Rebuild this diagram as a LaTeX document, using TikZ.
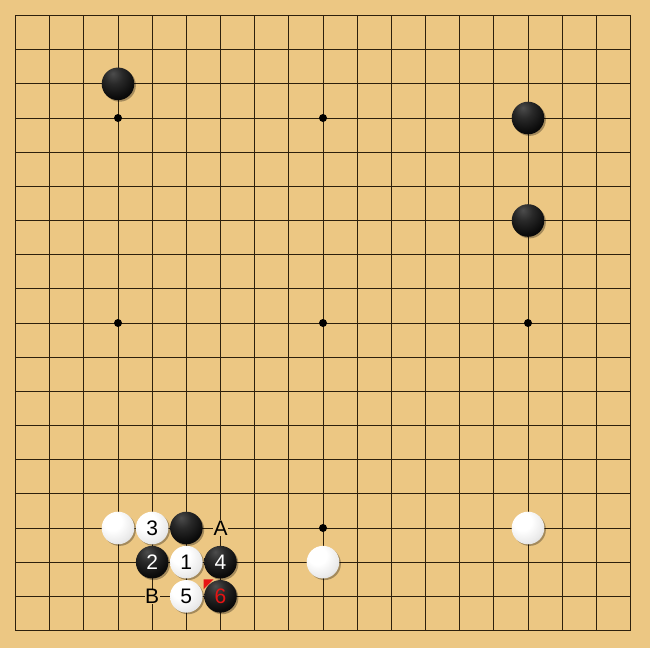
\documentclass[tikz,border=0pt]{standalone}
\usepackage{fontspec}
\setmainfont{Liberation Sans}
\usetikzlibrary{shadows,calc}
\definecolor{boardcol}{RGB}{236,199,131}
\definecolor{linecol}{RGB}{45,32,12}
\definecolor{markred}{RGB}{230,20,20}
\pgfdeclareradialshading{blackstone}{\pgfpoint{-8bp}{16bp}}{color(0bp)=(black!70);color(14bp)=(black!84);color(32bp)=(black!96);color(50bp)=(black);color(90bp)=(black)}
\pgfdeclareradialshading{whitestone}{\pgfpoint{-10bp}{12bp}}{color(0bp)=(white);color(14bp)=(white);color(30bp)=(black!8);color(42bp)=(black!18);color(52bp)=(black!32);color(62bp)=(black!45);color(90bp)=(black!50)}
\tikzset{
  gridline/.style={draw=linecol,line width=0.9pt},
  borderline/.style={draw=linecol,line width=1.8pt},
  starpt/.style={fill=black},
  stone/.style={circle,minimum size=32.6pt,inner sep=0pt,font=\fontsize{21}{21}\selectfont,
     drop shadow={shadow xshift=1.6pt,shadow yshift=-1.6pt,opacity=0.3,fill=black}},
  bstone/.style={stone,shading=blackstone,text=white},
  wstone/.style={stone,shading=whitestone,text=black},
  boardlabel/.style={fill=boardcol,inner sep=0.6pt,font=\fontsize{21}{21}\selectfont,text=black},
}
\begin{document}
\begin{tikzpicture}[x=1pt,y=-1pt]
\fill[boardcol] (0,0) rectangle (650,648);
\useasboundingbox (0,0) rectangle (650,648);
\foreach \i in {0,...,18} {
  \foreach \j in {0,...,18} {
    \coordinate (p\i-\j) at ({15.5+\i*34.1667},{15.5+\j*34.1667});
  }
}
\foreach \i in {1,...,17} {
  \draw[gridline] (p\i-0) -- (p\i-18);
  \draw[gridline] (p0-\i) -- (p18-\i);
}
\draw[borderline] (p0-0) rectangle (p18-18);
\foreach \i in {3,9,15} {
  \foreach \j in {3,9,15} {
    \fill[starpt] (p\i-\j) circle (4pt);
  }
}
% red last-move marker (drawn before stone 6)
\fill[markred] ($(p6-17)+(-17,-17)$) -- ++(10,0) -- ++(-10,10) -- cycle;
% stones
\node[bstone] (b1) at (p3-2) {};
\node[bstone] (b2) at (p15-3) {};
\node[bstone] (b3) at (p15-6) {};
\node[wstone] (w1) at (p15-15) {};
\node[wstone] (w2) at (p9-16) {};
\node[wstone] (w3) at (p3-15) {};
\node[bstone] (b4) at (p5-15) {};
\node[wstone] (m1) at (p5-16) {1};
\node[bstone] (m2) at (p4-16) {2};
\node[wstone] (m3) at (p4-15) {3};
\node[bstone] (m4) at (p6-16) {4};
\node[wstone] (m5) at (p5-17) {5};
\node[bstone,text=markred] (m6) at (p6-17) {6};
\node[boardlabel] (la) at (p6-15) {A};
\node[boardlabel] (lb) at (p4-17) {B};
\end{tikzpicture}
\end{document}
